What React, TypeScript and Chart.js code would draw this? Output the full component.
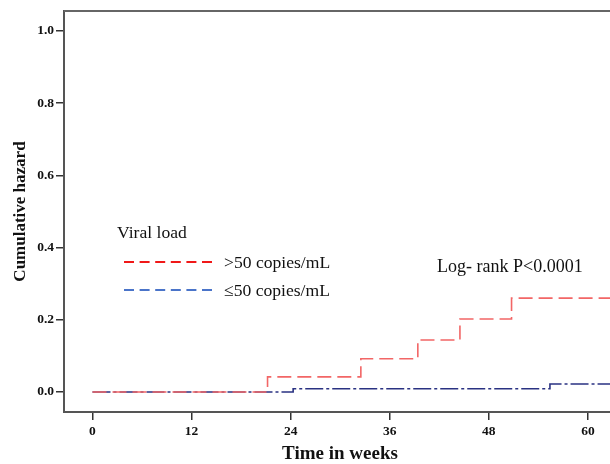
import React, { useEffect, useRef } from "react";
import { Chart, registerables } from "chart.js";

Chart.register(...registerables);

// Data (weeks, cumulative hazard) - step points
const redTimes = [0, 21.2, 32.5, 39.4, 44.5, 50.75, 66];
const redHazard = [0, 0.042, 0.092, 0.144, 0.202, 0.26, 0.26];
const blueTimes = [0, 24.3, 55.4, 66];
const blueHazard = [0, 0.009, 0.022, 0.022];

const xTickValues = [0, 12, 24, 36, 48, 60];
const yTickValues = [0, 0.2, 0.4, 0.6, 0.8, 1.0];

const legendTitle = "Viral load";
const seriesLabels = [">50 copies/mL", "\u226450 copies/mL"];
const logRankText = "Log- rank P<0.0001";

const SERIF = "'Liberation Serif', 'Times New Roman', serif";

const annotationPlugin = {
  id: "annotations",
  afterDraw(chart: any) {
    const ctx = chart.ctx as CanvasRenderingContext2D;
    const area = chart.chartArea;
    ctx.save();
    // top / right frame line
    ctx.strokeStyle = "#666";
    ctx.lineWidth = 2;
    ctx.beginPath();
    ctx.moveTo(area.left, area.top);
    ctx.lineTo(area.right, area.top);
    ctx.lineTo(area.right, area.bottom);
    ctx.stroke();

    ctx.fillStyle = "#111";
    ctx.font = `17.6px ${SERIF}`;
    ctx.textBaseline = "middle";
    ctx.textAlign = "left";
    ctx.fillText(legendTitle, 117, 233);

    const legendColors = ["#f01818", "#4a74c9"];
    const ys = [262, 290];
    ys.forEach((y, i) => {
      ctx.strokeStyle = legendColors[i];
      ctx.lineWidth = 2;
      ctx.setLineDash([10, 5.6]);
      ctx.beginPath();
      ctx.moveTo(124, y);
      ctx.lineTo(214, y);
      ctx.stroke();
      ctx.setLineDash([]);
      ctx.fillText(seriesLabels[i], 224, y + 1);
    });

    ctx.font = `18px ${SERIF}`;
    ctx.fillText(logRankText, 437, 267);
    ctx.restore();
  },
};

export default function App() {
  const canvasRef = useRef<HTMLCanvasElement | null>(null);

  useEffect(() => {
    document.body.style.margin = "0";
    const canvas = canvasRef.current;
    if (!canvas) return;
    const chart = new Chart(canvas, {
      type: "line",
      data: {
        datasets: [
          {
            label: seriesLabels[0],
            data: redTimes.map((t, i) => ({ x: t, y: redHazard[i] })),
            borderColor: "#f26666",
            borderWidth: 1.6,
            borderDash: [14, 6],
            stepped: true,
            pointRadius: 0,
            fill: false,
          },
          {
            label: seriesLabels[1],
            data: blueTimes.map((t, i) => ({ x: t, y: blueHazard[i] })),
            borderColor: "#2a3282",
            borderWidth: 1.6,
            borderDash: [18, 3, 3, 3],
            stepped: true,
            pointRadius: 0,
            fill: false,
          },
        ],
      },
      options: {
        animation: false,
        responsive: false,
        devicePixelRatio: 1,
        layout: { padding: { top: 11, right: 4, left: 0, bottom: 0 } },
        plugins: {
          legend: { display: false },
          tooltip: { enabled: false },
        },
        scales: {
          x: {
            type: "linear",
            min: -3.45,
            max: 63.4,
            afterBuildTicks: (scale: any) => {
              scale.ticks = xTickValues.map((v) => ({ value: v }));
            },
            afterFit: (scale: any) => {
              scale.height = 52;
            },
            ticks: {
              autoSkip: false,
              maxRotation: 0,
              padding: 3,
              color: "#111",
              font: { family: SERIF, size: 13.5, weight: "bold" },
              callback: (v: any) => String(v),
            },
            grid: {
              display: true,
              drawOnChartArea: false,
              drawTicks: true,
              tickLength: 8,
              color: "#333",
              lineWidth: 1.5,
            },
            border: { display: true, color: "#555", width: 2 },
            title: {
              display: true,
              text: "Time in weeks",
              color: "#111",
              font: { family: SERIF, size: 19, weight: "bold", lineHeight: 1 },
              padding: { top: 0, bottom: 0 },
            },
          },
          y: {
            type: "linear",
            min: -0.0554,
            max: 1.055,
            afterBuildTicks: (scale: any) => {
              scale.ticks = yTickValues.map((v) => ({ value: v }));
            },
            afterFit: (scale: any) => {
              scale.width = 64;
            },
            ticks: {
              autoSkip: false,
              padding: 2,
              color: "#111",
              font: { family: SERIF, size: 13.5, weight: "bold" },
              callback: (v: any) => Number(v).toFixed(1),
            },
            grid: {
              display: true,
              drawOnChartArea: false,
              drawTicks: true,
              tickLength: 8,
              color: "#333",
              lineWidth: 1.5,
            },
            border: { display: true, color: "#555", width: 2 },
            title: {
              display: true,
              text: "Cumulative hazard",
              color: "#111",
              font: { family: SERIF, size: 17, weight: "bold", lineHeight: 1 },
              padding: { top: 12, bottom: 0 },
            },
          },
        },
      },
      plugins: [annotationPlugin],
    } as any);
    return () => chart.destroy();
  }, []);

  return (
    <div style={{ width: 610, height: 464, overflow: "hidden", background: "#fff" }}>
      <canvas ref={canvasRef} width={620} height={464} style={{ display: "block" }} />
    </div>
  );
}
